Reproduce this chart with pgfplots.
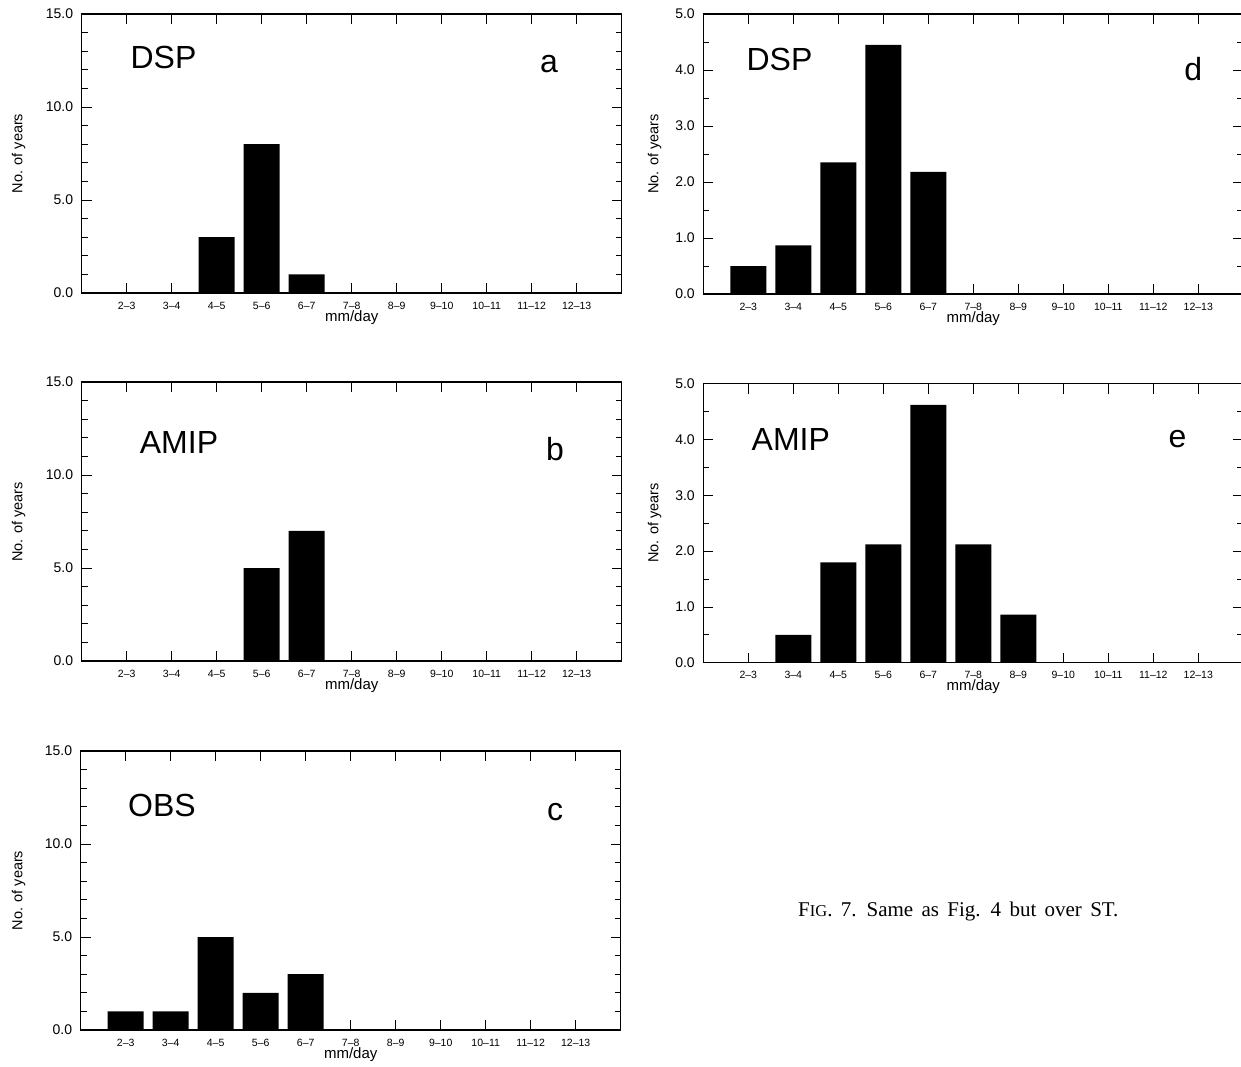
\documentclass[border=0pt]{standalone}
\usepackage{fontspec}
\setmainfont{Liberation Sans}
\newfontfamily\capfont{Liberation Serif}
\usepackage{pgfplots}
\pgfplotsset{compat=1.18}

\newcommand{\fs}[1]{\fontsize{#1}{#1}\selectfont}

\pgfplotsset{
  panel/.style={
    ybar, bar width=36pt,
    scale only axis, width=540pt, height=279pt,
    anchor=south west,
    xmin=0, xmax=12,
    xtick={1,...,11},
    xticklabels={2--3,3--4,4--5,5--6,6--7,7--8,8--9,9--10,10--11,11--12,12--13},
    xtick pos=both, ytick pos=both,
    xtick align=inside, ytick align=inside,
    major tick length=10pt, minor tick length=6pt,
    axis line style={line width=1.1pt},
    every tick/.style={black, line width=0.7pt},
    ymin=0,
    yticklabel style={font=\fs{14}, xshift=-5pt},
    xticklabel style={font=\fs{10.5}, anchor=base, yshift=-16pt},
    yticklabel style={/pgf/number format/.cd, fixed, fixed zerofill, precision=1, assume math mode=true},
    xlabel={mm/day},
    xlabel style={font=\fs{15}, at={(rel axis cs:0.5,0)}, anchor=base, yshift=-28pt},
  },
  fifteen/.style={panel, ymax=15, ytick={0,5,10,15}, minor y tick num=4},
  five/.style={panel, ymax=5, ytick={0,1,2,3,4,5}, minor y tick num=1},
  bars/.style={fill=black, draw=none},
}

\pgfplotstableread{
x  a  b  c  d     e
1  0  0  1  0.50  0
2  0  0  1  0.87  0.50
3  3  0  5  2.35  1.80
4  8  5  2  4.45  2.12
5  1  7  3  2.18  4.62
6  0  0  0  0     2.12
7  0  0  0  0     0.86
8  0  0  0  0     0
9  0  0  0  0     0
10 0  0  0  0     0
11 0  0  0  0     0
}\histdata

\begin{document}
\begin{tikzpicture}

% left column
\begin{axis}[fifteen, at={(81.7pt,-293pt)}]
\addplot[bars] table[x=x,y=a] {\histdata};
\end{axis}
\begin{axis}[fifteen, at={(81.7pt,-661pt)}]
\addplot[bars] table[x=x,y=b] {\histdata};
\end{axis}
\begin{axis}[fifteen, at={(80.7pt,-1030pt)}]
\addplot[bars] table[x=x,y=c] {\histdata};
\end{axis}

% right column
\begin{axis}[five, at={(703.3pt,-294pt)}, height=280pt]
\addplot[bars] table[x=x,y=d] {\histdata};
\end{axis}
\begin{axis}[five, at={(703.3pt,-662.7pt)}]
\addplot[bars] table[x=x,y=e] {\histdata};
\end{axis}

\begin{scope}[x=1pt,y=1pt]
% y labels
\foreach \px/\py in {22.3/-153.5, 22.3/-522, 22.3/-890.5, 658.3/-154, 658.3/-523}
  \node[rotate=90, anchor=base, font=\fs{14.5}, inner sep=0] at (\px,\py) {No. of years};

% panel names and letters
\begin{scope}[every node/.style={anchor=base, inner sep=0, font=\fs{32}}]
\node at (163.5,-68) {DSP};
\node at (549,-72) {a};
\node at (179,-453.3) {AMIP};
\node at (555,-460) {b};
\node at (162,-816.7) {OBS};
\node at (555,-820) {c};
\node at (779.5,-70.7) {DSP};
\node at (1193.3,-80) {d};
\node at (790.8,-450) {AMIP};
\node at (1177.5,-447.3) {e};
\end{scope}

\node[anchor=base west, inner sep=0, font=\capfont\fs{21}] at (798,-916.7)
  {\spaceskip=8.3pt F{\fs{16.5}IG}. 7. Same as Fig. 4 but over ST.};

\pgfresetboundingbox
\path[use as bounding box] (0,0) rectangle (1241,-1066);
\end{scope}
\end{tikzpicture}
\end{document}
